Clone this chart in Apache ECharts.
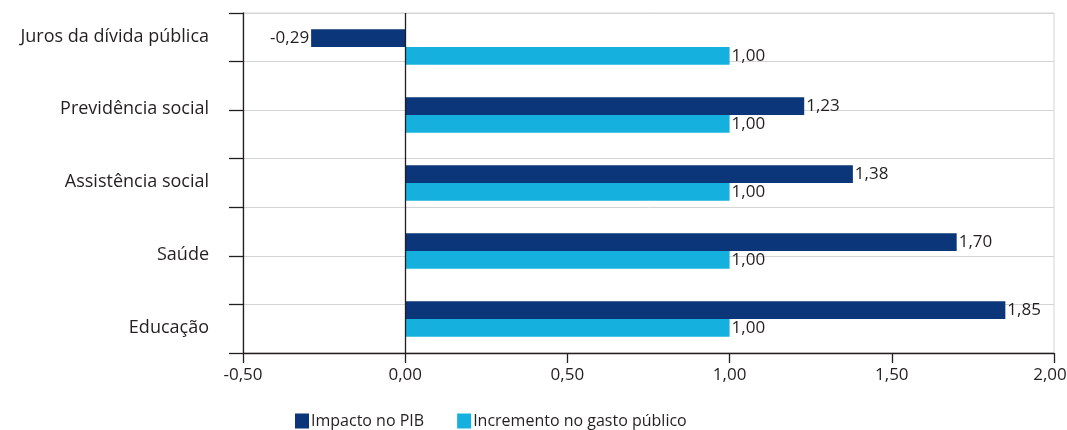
<!DOCTYPE html>
<html><head><meta charset="utf-8">
<script src="https://cdn.jsdelivr.net/npm/echarts@6/dist/echarts.min.js"></script>
<style>html,body{margin:0;padding:0;background:#fff}#c{width:1067px;height:430px}</style>
</head><body><div id="c"></div>
<script>
const categories = ['Juros da dívida pública','Previdência social','Assistência social','Saúde','Educação'];
const impactoPIB = [-0.29, 1.23, 1.38, 1.70, 1.85];
const incrementoGasto = [1.00, 1.00, 1.00, 1.00, 1.00];
const seriesNames = ['Impacto no PIB','Incremento no gasto público'];
const xTicks = [-0.5, 2.0, 0.5];

const fmt = v => v.toFixed(2).replace('.', ',');
const FONT = 'Open Sans';
const labelShift = [[0,0,20,0],[0,0,12,0],[0,0,2,0],[8,0,0,0],[18,0,0,0]];
const rich = {};
labelShift.forEach((p,i)=>{ rich['c'+i] = {padding:p, fontSize:18, color:'#231f20', fontFamily:FONT}; });

const chart = echarts.init(document.getElementById('c'));
chart.setOption({
  animation:false,
  textStyle:{fontFamily:FONT},
  grid:{left:243,right:13,top:13,bottom:77,show:true,borderColor:'#d4d4d4',borderWidth:1,containLabel:false,outerBoundsMode:'none'},
  legend:{
    top:413, left:295, padding:0, itemWidth:14, itemHeight:15, itemGap:33, icon:'rect',
    textStyle:{fontSize:16,color:'#231f20',fontFamily:FONT,padding:[0,0,0,-3]},
    data:seriesNames
  },
  xAxis:{
    type:'value', min:xTicks[0], max:xTicks[1], interval:xTicks[2],
    axisLine:{show:true,onZero:false,lineStyle:{color:'#231f20',width:1.3}},
    axisTick:{show:true,length:10,lineStyle:{color:'#231f20',width:1.3}},
    splitLine:{show:false},
    axisLabel:{formatter:v=>v===xTicks[1]?'{m|'+fmt(v)+'}':fmt(v),rich:{m:{padding:[0,8,0,0],fontSize:17,color:'#231f20',fontFamily:FONT}},fontSize:17,color:'#231f20',margin:14,fontFamily:FONT}
  },
  yAxis:[{
    type:'category', data:categories, inverse:true,
    axisLine:{show:false}, axisTick:{show:false}, splitLine:{show:false},
    axisLabel:{margin:34,formatter:(v,i)=>'{c'+i+'|'+v+'}',rich:rich,fontSize:18,color:'#231f20'}
  },{
    type:'value', min:0, max:7, interval:1, position:'left', offset:0,
    axisLine:{show:true,lineStyle:{color:'#231f20',width:1.3}},
    axisTick:{show:true,inside:false,length:14,lineStyle:{color:'#231f20',width:1.3}},
    axisLabel:{show:false},
    splitLine:{show:true,lineStyle:{color:'#d4d4d4',width:1}}
  }],
  series:[{
    name:seriesNames[0], type:'bar', yAxisIndex:0,
    data:impactoPIB.map(v=>v<0?{value:v,label:{position:'left'}}:v),
    barGap:'0%', barCategoryGap:'48%',
    itemStyle:{color:'#0b3679'},
    label:{show:true,position:'right',distance:2,formatter:p=>fmt(p.value),fontSize:17,color:'#231f20',fontFamily:FONT},
    markLine:{silent:true,symbol:'none',label:{show:false},lineStyle:{color:'#231f20',type:'solid',width:1.3},data:[{xAxis:0}]}
  },{
    name:seriesNames[1], type:'bar', yAxisIndex:0, data:incrementoGasto,
    itemStyle:{color:'#15b0de'},
    label:{show:true,position:'right',distance:2,formatter:p=>fmt(p.value),fontSize:17,color:'#231f20',fontFamily:FONT}
  }]
});
</script></body></html>
